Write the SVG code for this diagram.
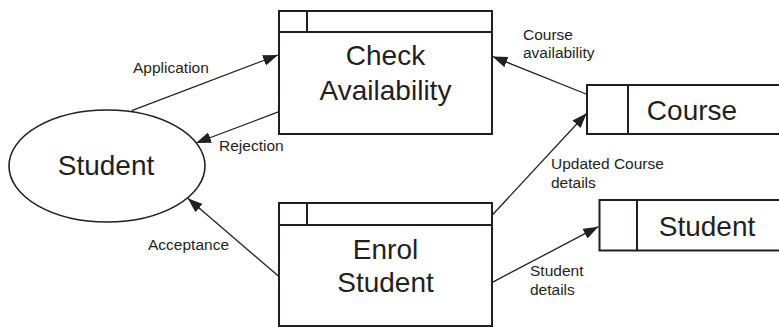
<svg xmlns="http://www.w3.org/2000/svg" width="779" height="327" viewBox="0 0 779 327">
  <defs>
    <marker id="arrow" markerUnits="userSpaceOnUse" markerWidth="16" markerHeight="12" refX="15" refY="5.5" orient="auto">
      <path d="M0,0 L15,5.5 L0,11 Z" fill="#231f20"/>
    </marker>
  </defs>
  <style>
    .box { fill: #fff; stroke: #231f20; stroke-width: 2; }
    .div { stroke: #231f20; stroke-width: 2; fill: none; }
    .ent { fill: #fff; stroke: #231f20; stroke-width: 1.6; }
    .big { font-family: "Liberation Sans", Arial, sans-serif; font-size: 28px; fill: #231f20; text-anchor: middle; }
    .lbl { font-family: "Liberation Sans", Arial, sans-serif; font-size: 15.5px; fill: #231f20; }
    .flow { stroke: #231f20; stroke-width: 1.3; fill: none; marker-end: url(#arrow); }
  </style>
  <rect width="779" height="327" fill="#fff"/>

  <!-- external entity -->
  <g id="student-entity">
    <ellipse class="ent" cx="107" cy="166" rx="98" ry="56"/>
    <text class="big" x="106" y="175">Student</text>
  </g>

  <!-- processes -->
  <g id="check-availability">
    <rect class="box" x="279" y="11" width="213" height="123"/>
    <line class="div" x1="279" y1="32" x2="492" y2="32"/>
    <line class="div" x1="307" y1="11" x2="307" y2="32"/>
    <text class="big" x="385.5" y="65">Check</text>
    <text class="big" x="385.5" y="100">Availability</text>
  </g>
  <g id="enrol-student">
    <rect class="box" x="279" y="203" width="213" height="123"/>
    <line class="div" x1="279" y1="225" x2="492" y2="225"/>
    <line class="div" x1="307" y1="203" x2="307" y2="225"/>
    <text class="big" x="385.5" y="259">Enrol</text>
    <text class="big" x="385.5" y="292">Student</text>
  </g>

  <!-- data stores -->
  <g id="course-store">
    <path class="div" d="M779,85 H587 V134 H779"/>
    <line class="div" x1="628" y1="85" x2="628" y2="134"/>
    <text class="big" x="692" y="120">Course</text>
  </g>
  <g id="student-store">
    <path class="div" d="M779,200 H599.5 V250.5 H779"/>
    <line class="div" x1="637" y1="200" x2="637" y2="250.5"/>
    <text class="big" x="707" y="236">Student</text>
  </g>

  <!-- data flows -->
  <g id="flows">
    <line class="flow" x1="131.7" y1="110.7" x2="278" y2="55"/>
    <line class="flow" x1="279" y1="111.7" x2="196" y2="143"/>
    <line class="flow" x1="278.3" y1="276" x2="187.7" y2="198.3"/>
    <line class="flow" x1="586" y1="94" x2="492.5" y2="56.5"/>
    <line class="flow" x1="492.3" y1="215" x2="586.7" y2="113.3"/>
    <line class="flow" x1="492.3" y1="282.3" x2="598.3" y2="226.7"/>
    <text class="lbl" x="133" y="73">Application</text>
    <text class="lbl" x="219" y="151">Rejection</text>
    <text class="lbl" x="148" y="250">Acceptance</text>
    <text class="lbl" x="523" y="40">Course</text>
    <text class="lbl" x="523" y="58">availability</text>
    <text class="lbl" x="551" y="169">Updated Course</text>
    <text class="lbl" x="551" y="188">details</text>
    <text class="lbl" x="530" y="276">Student</text>
    <text class="lbl" x="530" y="295">details</text>
  </g>
</svg>
